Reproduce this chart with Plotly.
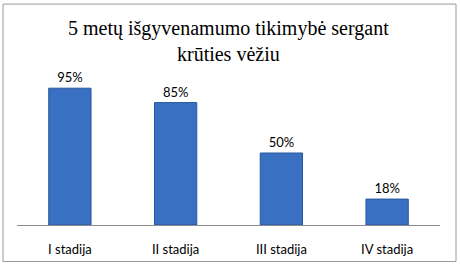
import plotly.graph_objects as go

categories = ["I stadija", "II stadija", "III stadija", "IV stadija"]
values = [95, 85, 50, 18]
labels = ["95%", "85%", "50%", "18%"]

W, H = 460, 269
L, R, T, B = 17, 20, 81, 42
pw, ph = W - L - R, H - T - B

def px_x(p):
    return (p - L) / pw

def px_y(p):
    return (H - B - p) / ph

fig = go.Figure(go.Bar(
    x=categories, y=values, text=labels, textposition="outside",
    textfont=dict(family="Lato, Open Sans, sans-serif", size=13, color="#000000"),
    marker=dict(color="#3A70C2", line=dict(color="#27569C", width=1)),
    cliponaxis=False,
))

fig.update_layout(
    width=W, height=H,
    margin=dict(l=L, r=R, t=T, b=B),
    paper_bgcolor="white", plot_bgcolor="white",
    bargap=0.6,
    showlegend=False,
    annotations=[dict(
        text="5 metų išgyvenamumo tikimybė sergant<br>krūties vėžiu",
        xref="paper", yref="paper", x=px_x(229), y=px_y(40),
        xanchor="center", yanchor="middle", showarrow=False,
        font=dict(family="Liberation Serif, Times New Roman, serif", size=20, color="#000000"),
    )],
    xaxis=dict(
        showline=True, linecolor="#8C8C8C", linewidth=1,
        showgrid=False, ticks="", ticklabelstandoff=12,
        tickfont=dict(family="Lato, Open Sans, sans-serif", size=13, color="#000000"),
        fixedrange=True,
    ),
    yaxis=dict(
        range=[0, 100], visible=False, showgrid=False, fixedrange=True,
    ),
    shapes=[dict(
        type="rect", xref="paper", yref="paper",
        x0=px_x(3), x1=px_x(456), y0=px_y(264), y1=px_y(3),
        line=dict(color="#9A9A9A", width=1), fillcolor="rgba(0,0,0,0)",
    )],
)

fig.write_html("out.html")
